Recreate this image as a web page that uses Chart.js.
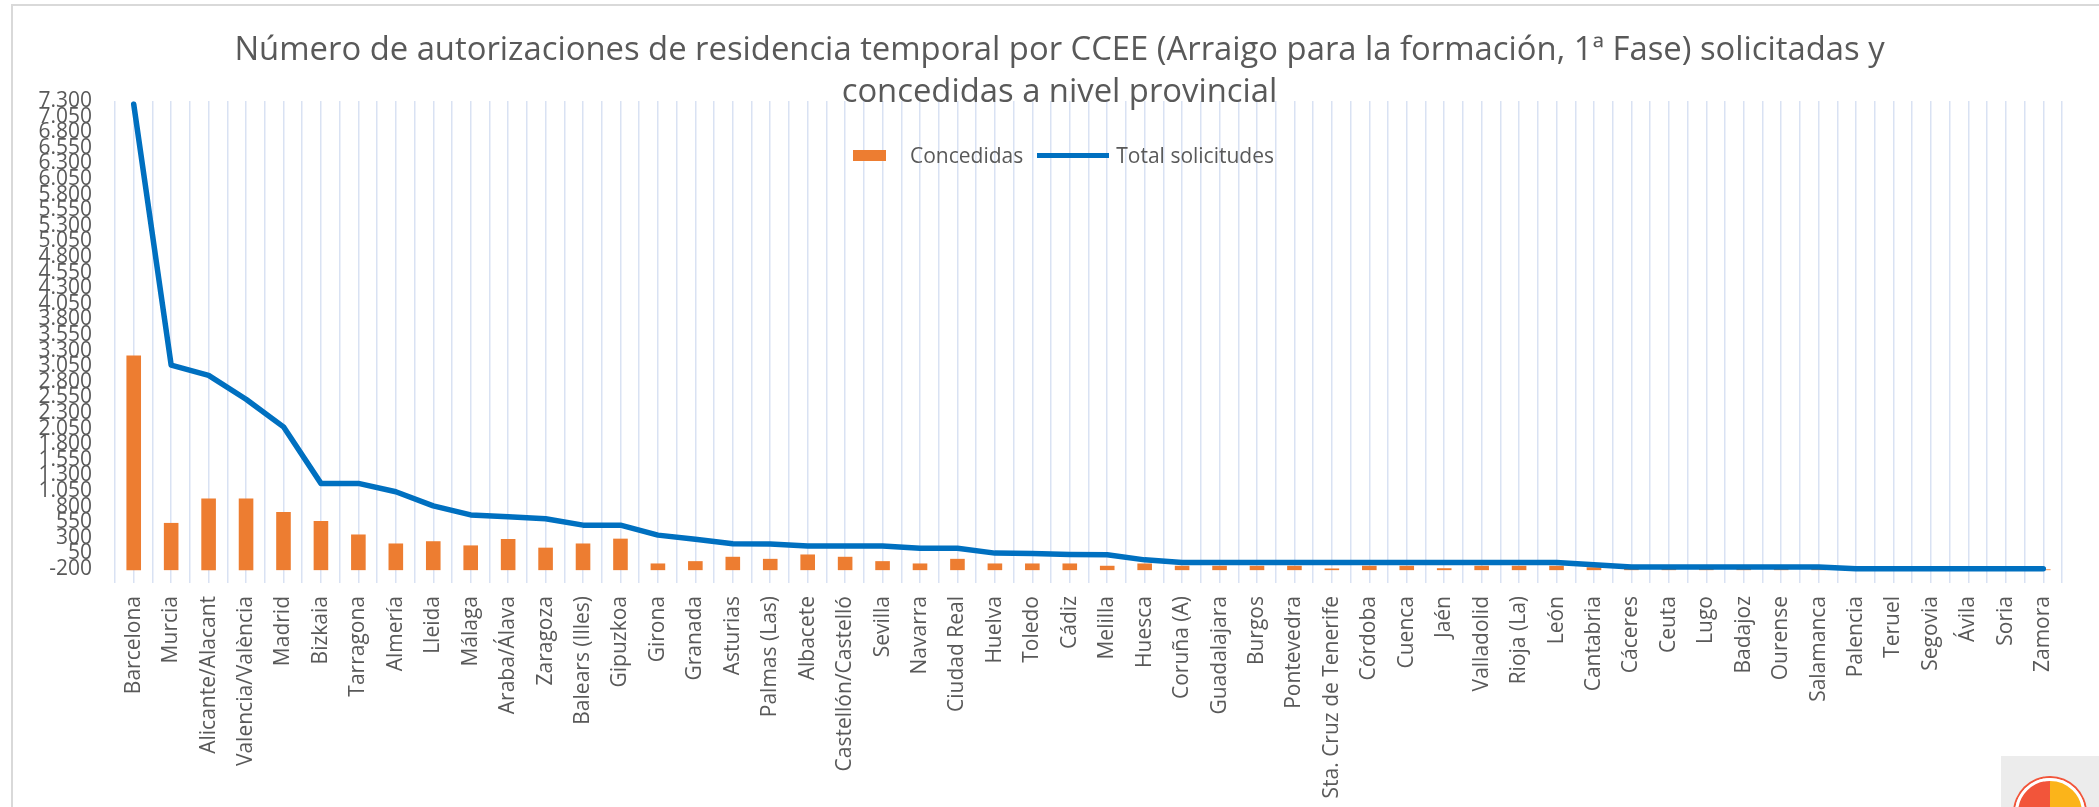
<!DOCTYPE html>
<html>
<head>
<meta charset="utf-8">
<script src="https://cdn.jsdelivr.net/npm/chart.js@4.4.0/dist/chart.umd.min.js"></script>
<style>
    html, body { margin: 0; padding: 0; background: #fff; }
    #wrap { position: relative; width: 2099px; height: 807px; overflow: hidden; }
    #frame { position: absolute; left: 11px; top: 4px; width: 2200px; height: 900px; border: 2px solid #d9d9d9; pointer-events: none; }
    #legend { position: absolute; top: 141px; left: 853px; display: flex; align-items: center; font-family: 'Open Sans', sans-serif; font-size: 21px; color: #595959; white-space: nowrap; }
    #legend .key { display: inline-block; }
    #logo { position: absolute; left: 2001px; top: 756px; width: 98px; height: 51px; background: #ececec; overflow: hidden; }
    #logo .disc { position: absolute; left: 14px; top: 22px; width: 64px; height: 64px; border-radius: 50%; border: 3px solid #fff; background: conic-gradient(#fbb41a 0 50%, #f2553a 50% 100%); box-shadow: 0 0 0 2px #f2553a; }
</style>
</head>
<body>
<div id="wrap">
    <canvas id="barChart" width="2099" height="807"></canvas>
    <div id="frame"></div>
    <div id="legend"></div>
    <div id="logo"><div class="disc"></div></div>
</div>
<script>
const provincias = [
    'Barcelona', 'Murcia', 'Alicante/Alacant', 'Valencia/València', 'Madrid', 'Bizkaia',
    'Tarragona', 'Almería', 'Lleida', 'Málaga', 'Araba/Álava', 'Zaragoza', 'Balears (Illes)',
    'Gipuzkoa', 'Girona', 'Granada', 'Asturias', 'Palmas (Las)', 'Albacete', 'Castellón/Castelló',
    'Sevilla', 'Navarra', 'Ciudad Real', 'Huelva', 'Toledo', 'Cádiz', 'Melilla', 'Huesca',
    'Coruña (A)', 'Guadalajara', 'Burgos', 'Pontevedra', 'Sta. Cruz de Tenerife', 'Córdoba',
    'Cuenca', 'Jaén', 'Valladolid', 'Rioja (La)', 'León', 'Cantabria', 'Cáceres', 'Ceuta',
    'Lugo', 'Badajoz', 'Ourense', 'Salamanca', 'Palencia', 'Teruel', 'Segovia', 'Ávila',
    'Soria', 'Zamora'
];

const concedidas = [
    3340, 735, 1115, 1115, 905, 765, 555, 415, 450, 385,
    485, 350, 415, 490, 104, 140, 208, 176, 244, 208,
    140, 104, 176, 104, 104, 104, 68, 104, 68, 68,
    68, 68, 26, 68, 68, 30, 68, 68, 68, 45,
    20, 20, 20, 20, 20, 20, 10, 10, 10, 10, 10, 12
];

const totalSolicitudes = [
    7250, 3190, 3030, 2660, 2230, 1350, 1350, 1220, 1000, 860,
    830, 800, 700, 700, 545, 480, 410, 405, 375, 375,
    375, 340, 340, 265, 260, 245, 240, 160, 120, 120,
    120, 120, 120, 120, 120, 120, 120, 120, 120, 85,
    50, 50, 50, 50, 50, 50, 20, 20, 20, 20, 20, 20
];

// etiquetas del eje vertical tal como aparecen
const yTicks = [
    -200, 50, 300, 550, 800, 1050, 1300, 1550, 1800, 2050, 2300, 2550, 2800, 3050, 3300, 3550,
    3800, 4050, 4300, 4550, 4800, 5050, 5300, 5550, 5800, 6050, 6300, 6550, 6800, 7050, 7300
];

const titulo = [
    'Número de autorizaciones de residencia temporal por CCEE (Arraigo para la formación, 1ª Fase) solicitadas y',
    'concedidas a nivel provincial'
];

const gris = '#595959';
const gridAzul = '#d9e2f3';

// miles con punto, como en el original
function fmt(v) {
    return String(v).replace(/\B(?=(\d{3})+(?!\d))/g, '.');
}

const htmlLegend = {
    id: 'htmlLegend',
    afterUpdate(chart) {
        const box = document.getElementById('legend');
        box.innerHTML = '';
        chart.data.datasets.forEach((ds, i) => {
            const key = document.createElement('span');
            key.className = 'key';
            if (ds.type === 'line') {
                key.style.width = '72px';
                key.style.height = '5px';
                key.style.background = ds.borderColor;
                key.style.marginRight = '7px';
            } else {
                key.style.width = '33px';
                key.style.height = '11px';
                key.style.background = ds.backgroundColor;
                key.style.marginRight = '24px';
            }
            const txt = document.createElement('span');
            txt.textContent = ds.label;
            if (i === 0) txt.style.marginRight = '14px';
            box.appendChild(key);
            box.appendChild(txt);
        });
    }
};

// el título del original no está centrado en el lienzo, sino algo a la derecha
const titleShift = {
    id: 'titleShift',
    afterLayout(chart) {
        if (chart.titleBlock) chart.titleBlock.left = 57;
    }
};

document.addEventListener('DOMContentLoaded', () => {
    const ctx = document.getElementById('barChart');
    new Chart(ctx, {
        type: 'bar',
        data: {
            labels: provincias,
            datasets: [
                {
                    label: 'Concedidas',
                    data: concedidas,
                    backgroundColor: '#ED7D31',
                    barPercentage: 0.39,
                    categoryPercentage: 1,
                    order: 2
                },
                {
                    type: 'line',
                    label: 'Total solicitudes',
                    data: totalSolicitudes,
                    borderColor: '#0070C0',
                    backgroundColor: '#0070C0',
                    borderWidth: 5.5,
                    pointRadius: 0,
                    tension: 0,
                    borderJoinStyle: 'round',
                    borderCapStyle: 'round',
                    order: 1
                }
            ]
        },
        options: {
            responsive: false,
            animation: false,
            layout: { padding: { left: 20, right: 37, top: 0, bottom: 0 } },
            plugins: {
                legend: { display: false },
                tooltip: { enabled: false },
                title: {
                    display: true,
                    text: titulo,
                    color: gris,
                    font: { family: 'Open Sans', size: 32.8, weight: 'normal', lineHeight: 1.29 },
                    padding: { top: 29, bottom: -12.6 }
                }
            },
            scales: {
                x: {
                    type: 'category',
                    position: 'bottom',
                    offset: true,
                    grid: { offset: true, color: gridAzul, lineWidth: 1.5, drawTicks: false },
                    border: { display: false },
                    ticks: {
                        autoSkip: false,
                        maxRotation: 90,
                        minRotation: 90,
                        padding: 13,
                        color: gris,
                        font: { family: 'Open Sans', size: 21 }
                    },
                    afterFit: s => { s.height = 224; }
                },
                x2: {
                    type: 'category',
                    position: 'top',
                    offset: true,
                    grid: { offset: false, color: gridAzul, lineWidth: 1.5, drawTicks: false },
                    border: { display: false },
                    ticks: { display: false }
                },
                y: {
                    min: -200,
                    max: 7300,
                    position: 'left',
                    grid: {
                        drawTicks: false,
                        color: c => (c.tick && c.tick.value === 0) ? '#d9d9d9' : 'rgba(0,0,0,0)',
                        lineWidth: 2
                    },
                    border: { display: false },
                    ticks: { display: false, stepSize: 250 },
                    afterFit: s => { s.width = 0; }
                },
                yEtiquetas: {
                    min: -424,
                    max: 7300,
                    position: 'left',
                    grid: { display: false, drawTicks: false },
                    border: { display: false },
                    ticks: {
                        autoSkip: false,
                        padding: 23,
                        color: gris,
                        font: { family: 'Open Sans', size: 21 },
                        callback: v => fmt(v)
                    },
                    afterBuildTicks: s => { s.ticks = yTicks.map(v => ({ value: v })); },
                    afterFit: s => { s.width = 95; }
                }
            }
        },
        plugins: [htmlLegend, titleShift]
    });
});
</script>
</body>
</html>
